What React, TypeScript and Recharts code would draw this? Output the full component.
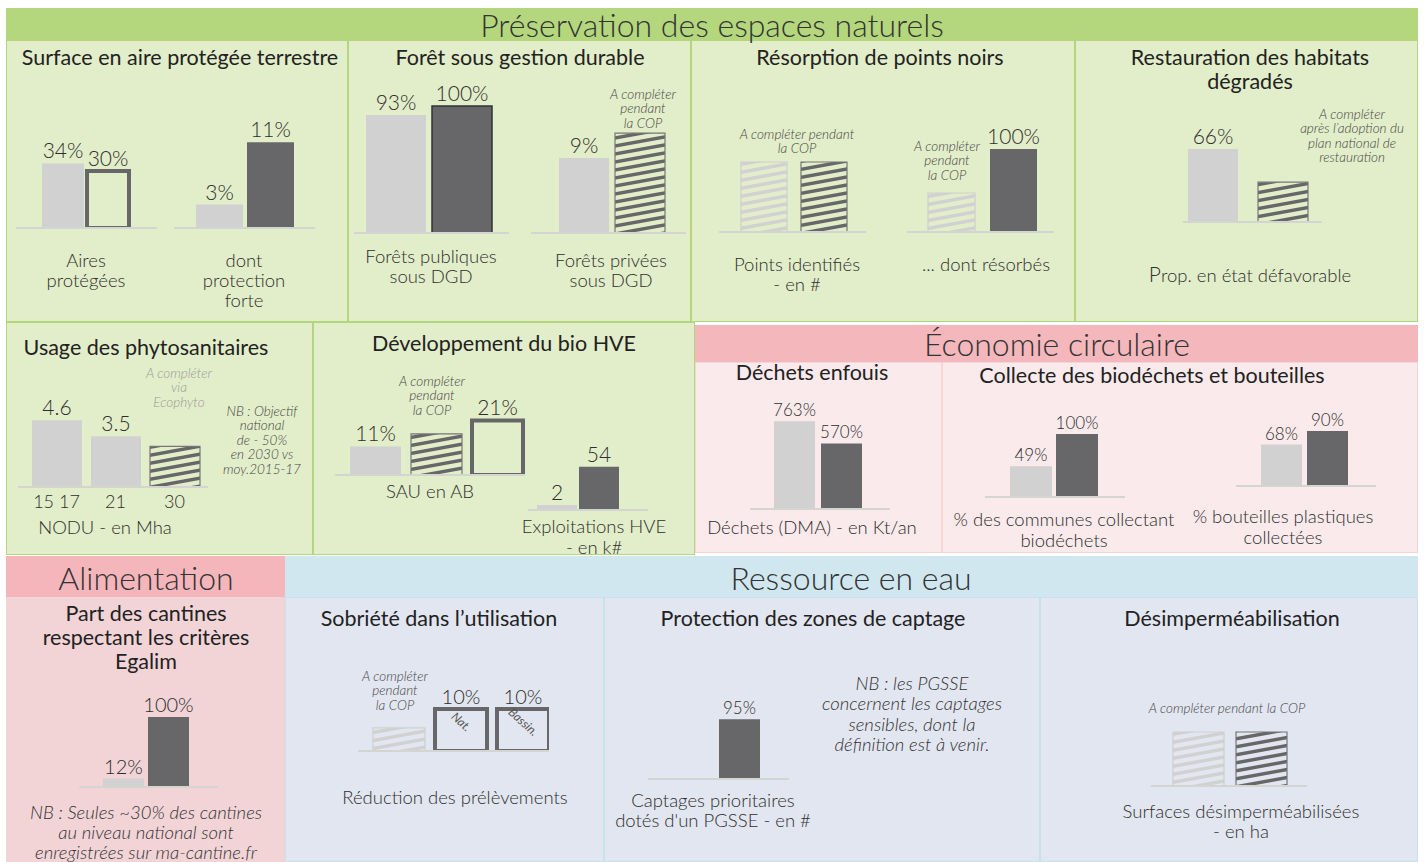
import React from "react";
import { BarChart, Bar, XAxis, YAxis, Cell, LabelList } from "recharts";

// values; hatched bars are "à compléter" placeholders (height only)
const aireActuel = [34, 3];
const aireCible = [30, 11];
const foretActuel = [93, 9];
const foretCible = [100, 12];
const pointsIdentifies = [70, 70];
const pointsResorbes = [47, 100];
const habitats = [66, 36];
const phytoYears = ["15 17", "21", "30"];
const phytoNodu = [4.6, 3.5, 2.8];
const sauBio = [11, 15.8, 21];
const hveExploit = [2, 54];
const dechetsDma = [763, 570];
const biodechets = [49, 100];
const bouteilles = [68, 90];
const cantines = [12, 100];
const prelevements = [5.5, 10, 10];
const prelevementsScope = ["", "Nat.", "Bassin."];
const captages = [0, 95];
const desimper = [54, 54];

const FONT = "Lato, 'Open Sans', sans-serif";
const LIGHT = "#d0d1d0";
const DARK = "#676668";
const INK = "#2e2e2e";

type Kind = "light" | "dark" | "darkEdge" | "outline" | "hatchLight" | "hatchDark";

function look(k: Kind) {
  switch (k) {
    case "light":
      return { fill: LIGHT };
    case "dark":
      return { fill: DARK };
    case "darkEdge":
      return { fill: DARK, stroke: "#333", strokeWidth: 1.5 };
    case "outline":
      return { fill: "none", stroke: DARK, strokeWidth: 4 };
    case "hatchLight":
      return { fill: "url(#hatchLight)", stroke: "#cfd0cf", strokeWidth: 1.2 };
    case "hatchDark":
      return { fill: "url(#hatchDark)", stroke: "#777", strokeWidth: 1.2 };
  }
}

type Spec = {
  baseL: number;
  baseR: number;
  base: number;
  center?: number;
  pad?: { left: number; right: number };
  px: number;
  size: number;
  gap?: number;
  font?: number;
  cats: string[];
  values: number[][];
  kinds: Kind[][];
  labels: string[][];
  notes?: string[][];
  ticks?: boolean;
  minPoint?: number;
};

const pct = (v: number) => `${v}%`;

function one(values: number[], kinds: Kind[], labels: string[], notes?: string[]) {
  return { cats: [""], values: [values], kinds: [kinds], labels: [labels], notes: notes ? [notes] : undefined };
}

const PLOT_H = 150;
const TOP = 32;

const NoteInBox = (p: any) => {
  if (!p.value) return null;
  const vb = p.viewBox ?? p;
  const cx = vb.x + vb.width * 0.45;
  const cy = vb.y + vb.height * 0.38;
  return (
    <text x={cx} y={cy} transform={`rotate(42 ${cx} ${cy})`} textAnchor="middle" fontSize={12}
      fontStyle="italic" fill="#555" fontFamily={FONT}>
      {p.value}
    </text>
  );
};

function Mini({ s }: { s: Spec }) {
  const axisH = s.ticks ? 26 : 1;
  const w = s.baseR - s.baseL;
  const h = PLOT_H + TOP + axisH;
  const d = s.center != null ? s.center - (s.baseL + s.baseR) / 2 : 0;
  const pad = s.pad ?? { left: Math.max(0, 2 * d), right: Math.max(0, -2 * d) };
  const nSeries = s.values[0].length;
  const rows = s.cats.map((c, ci) => {
    const r: Record<string, string | number> = { name: c };
    s.values[ci].forEach((v, si) => {
      r[`v${si}`] = v;
      r[`l${si}`] = s.labels[ci][si];
      r[`n${si}`] = s.notes?.[ci]?.[si] ?? "";
    });
    return r;
  });
  return (
    <div style={{ position: "absolute", left: s.baseL, top: s.base - PLOT_H - TOP, width: w, height: h }}>
      <BarChart width={w} height={h} data={rows} margin={{ top: TOP, right: 0, bottom: 0, left: 0 }}
        barSize={s.size} barGap={s.gap ?? 4}>
        <XAxis dataKey="name" height={axisH} axisLine={{ stroke: "#d3d5d1", strokeWidth: 2 }} tickLine={false}
          tick={s.ticks ? { fill: INK, fontSize: 18, fontFamily: FONT, fontWeight: 300 } : false} padding={pad} interval={0} />
        <YAxis hide domain={[0, PLOT_H / s.px]} allowDataOverflow />
        {Array.from({ length: nSeries }, (_, si) => (
          <Bar key={si} dataKey={`v${si}`} isAnimationActive={false} minPointSize={s.minPoint ?? 0}>
            {s.cats.map((_, ci) => (
              <Cell key={ci} {...look(s.kinds[ci][si])} />
            ))}
            <LabelList dataKey={`l${si}`} position="top" offset={5} fill={INK} fontSize={s.font ?? 21}
              fontFamily={FONT} fontWeight={300} />
            {s.notes && <LabelList dataKey={`n${si}`} content={NoteInBox} />}
          </Bar>
        ))}
      </BarChart>
    </div>
  );
}

const charts: Spec[] = [
  { ...one([aireActuel[0], aireCible[0]], ["light", "outline"], [pct(aireActuel[0]), pct(aireCible[0])]),
    baseL: 16, baseR: 157, base: 228, center: 85, px: 1.9, size: 42, gap: 3 },
  { ...one([aireActuel[1], aireCible[1]], ["light", "dark"], [pct(aireActuel[1]), pct(aireCible[1])]),
    baseL: 174, baseR: 315, base: 228, center: 244.5, px: 7.8, size: 47, gap: 4 },
  { ...one([foretActuel[0], foretCible[0]], ["light", "darkEdge"], [pct(foretActuel[0]), pct(foretCible[0])]),
    baseL: 354, baseR: 509, base: 233, center: 429, px: 1.27, size: 60, gap: 6 },
  { ...one([foretActuel[1], foretCible[1]], ["light", "hatchDark"], [pct(foretActuel[1]), ""]),
    baseL: 531, baseR: 686, base: 233, center: 612, px: 8.33, size: 50, gap: 6 },
  { ...one(pointsIdentifies, ["hatchLight", "hatchDark"], ["", ""]),
    baseL: 719, baseR: 866, base: 232, center: 793.5, px: 1, size: 46, gap: 14 },
  { ...one(pointsResorbes, ["hatchLight", "dark"], ["", pct(pointsResorbes[1])]),
    baseL: 907, baseR: 1054, base: 232, center: 982.5, px: 0.83, size: 47, gap: 15 },
  { ...one(habitats, ["light", "hatchDark"], [pct(habitats[0]), ""]),
    baseL: 1183, baseR: 1322, base: 222, center: 1247.5, px: 1.106, size: 50, gap: 20 },
  { cats: phytoYears, values: phytoNodu.map((v) => [v]), kinds: [["light"], ["light"], ["hatchDark"]],
    labels: [[String(phytoNodu[0])], [String(phytoNodu[1])], [""]], ticks: true,
    baseL: 18, baseR: 208, base: 487, pad: { left: 9, right: 4 }, px: 14.5, size: 50 },
  { ...one(sauBio, ["light", "hatchDark", "outline"], [pct(sauBio[0]), "", pct(sauBio[2])]),
    baseL: 335, baseR: 525, base: 475, center: 436.5, px: 2.6, size: 51, gap: 10 },
  { ...one(hveExploit, ["light", "dark"], hveExploit.map(String)),
    baseL: 528, baseR: 648, base: 510, center: 578, px: 0.8, size: 40, gap: 2, minPoint: 5 },
  { ...one(dechetsDma, ["light", "dark"], dechetsDma.map(pct)),
    baseL: 750, baseR: 890, base: 509, center: 818, px: 0.115, size: 41, gap: 6, font: 17 },
  { ...one(biodechets, ["light", "dark"], biodechets.map(pct)),
    baseL: 985, baseR: 1125, base: 497, center: 1053.5, px: 0.63, size: 42, gap: 4, font: 17 },
  { ...one(bouteilles, ["light", "dark"], bouteilles.map(pct)),
    baseL: 1236, baseR: 1376, base: 486, center: 1304.5, px: 0.61, size: 41, gap: 5, font: 17 },
  { ...one(cantines, ["light", "dark"], cantines.map(pct)),
    baseL: 79, baseR: 218, base: 787, center: 146, px: 0.7, size: 41, gap: 4, font: 20 },
  { ...one(prelevements, ["hatchLight", "outline", "outline"], ["", pct(prelevements[1]), pct(prelevements[2])], prelevementsScope),
    baseL: 358, baseR: 549, base: 751, center: 460.5, px: 4.2, size: 52, gap: 10, font: 20 },
  { ...one(captages, ["light", "dark"], [String(captages[0]), pct(captages[1])]),
    baseL: 648, baseR: 789, base: 779, center: 717, px: 0.63, size: 41, gap: 4, font: 17 },
  { ...one(desimper, ["hatchLight", "hatchDark"], ["", ""]),
    baseL: 1151, baseR: 1307, base: 786, center: 1230, px: 1, size: 51, gap: 12 },
];

function Box({ x, y, w, h, bg, border }: { x: number; y: number; w: number; h: number; bg: string; border?: string }) {
  return (
    <div style={{ position: "absolute", left: x, top: y, width: w, height: h, background: bg,
      border: border ? `1.5px solid ${border}` : undefined, boxSizing: "border-box" }} />
  );
}

// y is the centre of the first line
function Txt({ x, y, lines, size = 18.5, lh, italic, color = INK, weight = 300 }: {
  x: number; y: number; lines: React.ReactNode[]; size?: number; lh?: number; italic?: boolean; color?: string; weight?: number;
}) {
  const L = lh ?? Math.round(size * 1.15);
  return (
    <div style={{ position: "absolute", left: x - 250, width: 500, top: y - L / 2, fontSize: size, lineHeight: `${L}px`,
      textAlign: "center", fontStyle: italic ? "italic" : "normal", color, fontWeight: weight, whiteSpace: "nowrap" }}>
      {lines.map((l, i) => <div key={i}>{l}</div>)}
    </div>
  );
}

// thin stripes rising ~10° to the right, 8px period
function Hatch({ id, color }: { id: string; color: string }) {
  return (
    <pattern id={id} patternUnits="userSpaceOnUse" width={44} height={8}>
      <polygon points="0,4.5 44,-3.5 44,0 0,8" fill={color} />
      <polygon points="0,12.5 44,4.5 44,8 0,16" fill={color} />
    </pattern>
  );
}

const GREEN_BG = "#e2edc9";
const GREEN_LINE = "#b3d57c";

export default function App() {
  const note = { italic: true, size: 13.5, lh: 14.5, color: "#444" };
  const title = { size: 21.5, weight: 400, color: "#222" };
  const head = { size: 32, weight: 300, color: "#333" };
  return (
    <div style={{ position: "absolute", left: 0, top: 0, width: 1424, height: 862, background: "#fff",
      fontFamily: FONT, overflow: "hidden" }}>
      <svg width={0} height={0} style={{ position: "absolute" }}>
        <defs>
          <Hatch id="hatchDark" color={DARK} />
          <Hatch id="hatchLight" color={LIGHT} />
        </defs>
      </svg>

      {/* Préservation des espaces naturels */}
      <Box x={6} y={8} w={1412} h={32} bg="#b4d77d" />
      <Box x={6} y={40} w={342} h={282} bg={GREEN_BG} border={GREEN_LINE} />
      <Box x={348} y={40} w={343} h={282} bg={GREEN_BG} border={GREEN_LINE} />
      <Box x={691} y={40} w={384} h={282} bg={GREEN_BG} border={GREEN_LINE} />
      <Box x={1075} y={40} w={343} h={282} bg={GREEN_BG} border={GREEN_LINE} />
      <Box x={6} y={322} w={307} h={233} bg={GREEN_BG} border={GREEN_LINE} />
      <Box x={313} y={322} w={382} h={233} bg={GREEN_BG} border={GREEN_LINE} />

      {/* Économie circulaire */}
      <Box x={695} y={325} w={723} h={37} bg="#f4b7bb" />
      <Box x={695} y={362} w={247} h={191} bg="#faeaeb" border="#f4d6d8" />
      <Box x={942} y={362} w={476} h={191} bg="#faeaeb" border="#f4d6d8" />

      {/* Alimentation */}
      <Box x={6} y={556} w={279} h={41} bg="#f4b6bb" />
      <Box x={6} y={597} w={279} h={265} bg="#f2d4d7" />

      {/* Ressource en eau */}
      <Box x={285} y={556} w={1133} h={41} bg="#d0e7f0" />
      <Box x={285} y={597} w={319} h={265} bg="#e2e6f0" border="#c8e2ea" />
      <Box x={604} y={597} w={436} h={265} bg="#e2e6f0" border="#c8e2ea" />
      <Box x={1040} y={597} w={378} h={265} bg="#e2e6f0" border="#c8e2ea" />

      <Txt x={712} y={24} lines={["Préservation des espaces naturels"]} {...head} />
      <Txt x={1057} y={343} lines={["Économie circulaire"]} {...head} />
      <Txt x={146} y={577} lines={["Alimentation"]} {...head} />
      <Txt x={851} y={577} lines={["Ressource en eau"]} {...head} />

      <Txt x={180} y={57} lines={["Surface en aire protégée terrestre"]} {...title} />
      <Txt x={520} y={57} lines={["Forêt sous gestion durable"]} {...title} />
      <Txt x={880} y={57} lines={["Résorption de points noirs"]} {...title} />
      <Txt x={1250} y={57} lines={["Restauration des habitats", "dégradés"]} {...title} lh={24} />
      <Txt x={146} y={347} lines={["Usage des phytosanitaires"]} {...title} />
      <Txt x={504} y={343} lines={["Développement du bio HVE"]} {...title} />
      <Txt x={812} y={372} lines={["Déchets enfouis"]} {...title} />
      <Txt x={1152} y={375} lines={["Collecte des biodéchets et bouteilles"]} {...title} />
      <Txt x={146} y={613} lines={["Part des cantines", "respectant les critères", "Egalim"]} {...title} lh={24} />
      <Txt x={439} y={618} lines={["Sobriété dans l’utilisation"]} {...title} />
      <Txt x={813} y={618} lines={["Protection des zones de captage"]} {...title} />
      <Txt x={1232} y={618} lines={["Désimperméabilisation"]} {...title} />

      {charts.map((s, i) => <Mini key={i} s={s} />)}

      <Txt x={86} y={260} lines={["Aires", "protégées"]} lh={20} />
      <Txt x={244} y={260} lines={["dont", "protection", "forte"]} lh={20} />
      <Txt x={431} y={256} lines={["Forêts publiques", "sous DGD"]} lh={20} />
      <Txt x={611} y={260} lines={["Forêts privées", "sous DGD"]} lh={20} />
      <Txt x={797} y={264} lines={["Points identifiés", "- en #"]} lh={20} />
      <Txt x={986} y={264} lines={["... dont résorbés"]} />
      <Txt x={1250} y={273} lines={[<span key="p"><span style={{ fontSize: 21 }}>P</span>rop. en état défavorable</span>]} />
      <Txt x={105} y={527} lines={["NODU - en Mha"]} />
      <Txt x={430} y={491} lines={["SAU en AB"]} />
      <Txt x={594} y={526} lines={["Exploitations HVE", "- en k#"]} lh={21} />
      <Txt x={812} y={527} lines={["Déchets (DMA) - en Kt/an"]} />
      <Txt x={1064} y={519} lines={["% des communes collectant", "biodéchets"]} lh={21} />
      <Txt x={1283} y={516} lines={["% bouteilles plastiques", "collectées"]} lh={21} />
      <Txt x={455} y={797} lines={["Réduction des prélèvements"]} />
      <Txt x={713} y={800} lines={["Captages prioritaires", "dotés d'un PGSSE - en #"]} lh={20} />
      <Txt x={1241} y={811} lines={["Surfaces désimperméabilisées", "- en ha"]} lh={20} />

      <Txt x={643} y={94} lines={["A compléter", "pendant", "la COP"]} {...note} />
      <Txt x={797} y={134} lines={["A compléter pendant", "la COP"]} {...note} />
      <Txt x={947} y={146} lines={["A compléter", "pendant", "la COP"]} {...note} />
      <Txt x={1352} y={114} lines={["A compléter", "après l’adoption du", "plan national de", "restauration"]} {...note} />
      <Txt x={179} y={373} lines={["A compléter", "via", "Ecophyto"]} {...note} color="#9a9a9a" />
      <Txt x={262} y={411} lines={["NB : Objectif", "national", "de - 50%", "en 2030 vs", "moy.2015-17"]} {...note} />
      <Txt x={432} y={381} lines={["A compléter", "pendant", "la COP"]} {...note} />
      <Txt x={395} y={676} lines={["A compléter", "pendant", "la COP"]} {...note} />
      <Txt x={912} y={683} lines={["NB : les PGSSE", "concernent les captages", "sensibles, dont la", "définition est à venir."]}
        italic size={18.5} lh={20.5} color="#333" />
      <Txt x={1227} y={708} lines={["A compléter pendant la COP"]} {...note} />
      <Txt x={146} y={812} lines={["NB : Seules ~30% des cantines", "au niveau national  sont", "enregistrées sur ma-cantine.fr"]}
        italic size={18.5} lh={20} color="#333" />
    </div>
  );
}
